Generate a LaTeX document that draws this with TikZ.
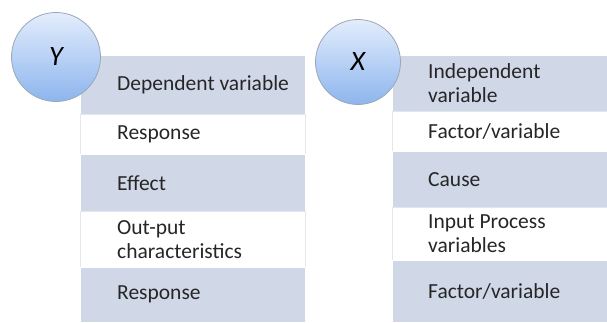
\documentclass[tikz,border=0pt]{standalone}
\usepackage{fontspec}
\setmainfont{Carlito}
\definecolor{rowdark}{HTML}{D0D8E8}
\definecolor{rowline}{HTML}{E2E7F0}
\definecolor{circtop}{HTML}{E3EDFC}
\definecolor{circbot}{HTML}{8DB5EE}
\definecolor{circline}{HTML}{9CA6B6}
\begin{document}
\begin{tikzpicture}[x=1pt,y=-1pt,
  cell/.style={anchor=north west, inner sep=0pt},
  dark/.style={cell, fill=rowdark, draw=white, line width=0.6pt},
  light/.style={cell, fill=white, draw=rowline, line width=0.8pt},
  label/.style={anchor=west, inner sep=0pt, align=left,
    font=\fontsize{21.5}{23.5}\selectfont, text=black!85},
  ball/.style={circle, draw=circline, line width=0.8pt, top color=circtop, bottom color=circbot,
    minimum size=#1, inner sep=0pt, font=\itshape\fontsize{28}{28}\selectfont},
]
\useasboundingbox (0,0) rectangle (607,322);
% left table
\node[dark,  minimum width=225pt, minimum height=59pt] (l1) at (80,55)  {};
\node[light, minimum width=225pt, minimum height=40pt] (l2) at (80,114) {};
\node[dark,  minimum width=225pt, minimum height=57pt] (l3) at (80,154) {};
\node[light, minimum width=225pt, minimum height=56pt] (l4) at (80,211) {};
\node[dark,  minimum width=225pt, minimum height=55pt] (l5) at (80,267) {};
\node[label] (tl1) at ([xshift=37pt]l1.west) {Dependent variable};
\node[label] (tl2) at ([xshift=37pt]l2.west) {Response};
\node[label] (tl3) at ([xshift=37pt]l3.west) {Effect};
\node[label] (tl4) at ([xshift=37pt]l4.west) {Out-put\\characteristics};
\node[label] (tl5) at ([xshift=37pt]l5.west) {Response};
% right table
\node[dark,  minimum width=215pt, minimum height=56pt] (r1) at (392,55)  {};
\node[light, minimum width=215pt, minimum height=40pt] (r2) at (392,111) {};
\node[dark,  minimum width=215pt, minimum height=56pt] (r3) at (392,151) {};
\node[light, minimum width=215pt, minimum height=53pt] (r4) at (392,207) {};
\node[dark,  minimum width=215pt, minimum height=62pt] (r5) at (392,260) {};
\node[label] (tr1) at ([xshift=36pt]r1.west) {Independent\\variable};
\node[label] (tr2) at ([xshift=36pt]r2.west) {Factor/variable};
\node[label] (tr3) at ([xshift=36pt]r3.west) {Cause};
\node[label] (tr4) at ([xshift=36pt]r4.west) {Input Process\\variables};
\node[label] (tr5) at ([xshift=36pt]r5.west) {Factor/variable};
% circles
\node[ball=89pt] (cy) at (56,57) {Y};
\node[ball=85pt] (cx) at (358,62) {X};
\end{tikzpicture}
\end{document}
